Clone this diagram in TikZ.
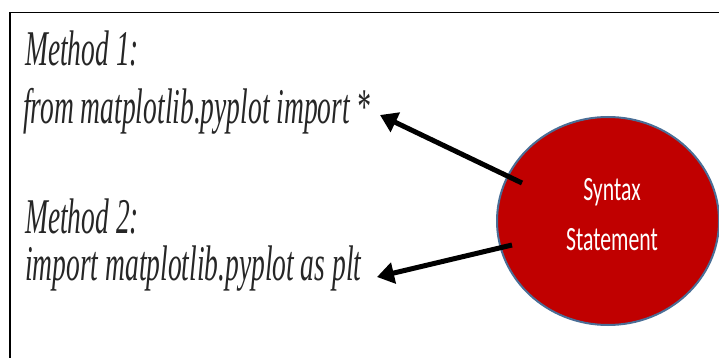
\documentclass[tikz,border=0pt]{standalone}
\usepackage{fontspec}
\usetikzlibrary{shapes.geometric,arrows.meta}
\newfontfamily\methfont{Liberation Serif}
\newfontfamily\synfont{Carlito}
\definecolor{synred}{HTML}{C00000}
\definecolor{synedge}{HTML}{4A6E96}
\tikzset{
  methtext/.style={anchor=base west, inner sep=0pt, font=\methfont\itshape\fontsize{50}{60}\selectfont, text=black!85},
  syntext/.style={anchor=base, inner sep=0pt, font=\synfont\fontsize{34}{40}\selectfont, text=white},
  bigarrow/.style={line width=5pt, -{Triangle[length=17pt,width=21pt]}},
  frameline/.style={line width=1.5pt}
}
\begin{document}
\begin{tikzpicture}[x=1pt,y=-1pt]
\useasboundingbox (0,0) rectangle (719,358);
\coordinate (fb) at (10,358);
\coordinate (ftl) at (10,12.5);
\coordinate (fr) at (719,12.5);
\draw[frameline] (fb) -- (ftl) -- (fr);

\node[methtext] (m1) at (25,66) {\scalebox{0.55}[1]{Method 1:}};
\node[methtext] (c1) at (23,124) {\scalebox{0.55}[1]{from matplotlib.pyplot import *}};
\node[methtext] (m2) at (25,233) {\scalebox{0.55}[1]{Method 2:}};
\node[methtext] (c2) at (25,280) {\scalebox{0.55}[1]{import matplotlib.pyplot as plt}};

\node[ellipse, draw=synedge, line width=2pt, fill=synred, minimum width=222pt, minimum height=208pt, inner sep=0pt] (syn) at (608,221) {};
\node[syntext] (s1) at (612,200) {\scalebox{0.64}[1]{Syntax}};
\node[syntext] (s2) at (612,250) {\scalebox{0.64}[1]{Statement}};

\coordinate (a1s) at (522,183);
\coordinate (a1t) at (380,115);
\coordinate (a2s) at (512,245);
\coordinate (a2t) at (377,277);
\draw[bigarrow] (a1s) -- (a1t);
\draw[bigarrow] (a2s) -- (a2t);
\end{tikzpicture}
\end{document}
